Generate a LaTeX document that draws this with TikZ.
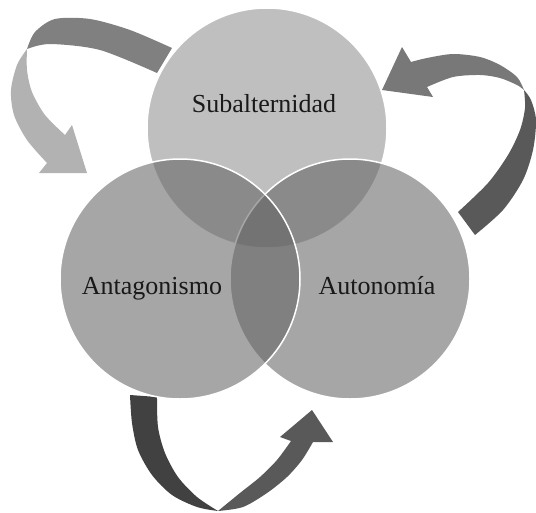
\documentclass[tikz,border=0pt]{standalone}
\usepackage{fontspec}
\setmainfont{Liberation Serif}
\definecolor{topgray}{gray}{0.56}
\definecolor{sidegray}{gray}{0.39}
\definecolor{ribbondark}{gray}{0.50}
\definecolor{ribbonlight}{gray}{0.70}
\definecolor{ribbonmid}{gray}{0.47}
\definecolor{ribbondeep}{gray}{0.35}
\definecolor{ribbonblack}{gray}{0.255}
\usetikzlibrary{positioning}

\begin{document}
\begin{tikzpicture}[x=1pt, y=-1pt,
  venn/.style={circle, minimum size=240pt, inner sep=0pt, fill opacity=0.57, draw=white, line width=1.5pt},
  vennlabel/.style={anchor=base, text=black!90, font=\fontsize{26}{30}\selectfont}]
  \useasboundingbox (0,0) rectangle (536,512);

  % Cycle arrows
  \fill[ribbondark] plot[smooth] coordinates {(172,48) (130,30) (90,19) (55,19) (35,32) (27,49)}
    -- plot[smooth] coordinates {(27,49) (50,44) (100,50) (157,73)} -- cycle;
  \fill[ribbonlight] plot[smooth] coordinates {(27,49) (17,65) (11,90) (14,115) (27,140) (47,163)}
    -- (39,173) -- (87,173) -- (72,125)
    -- plot[smooth] coordinates {(65,135) (45,115) (32,92) (27,70) (27,49)} -- cycle;

  \fill[ribbondeep] plot[smooth] coordinates {(475,235) (503,210) (523,180) (533,150) (536,120) (531,100) (524,90)}
    -- plot[smooth] coordinates {(524,90) (525,108) (520,130) (508,155) (488,183) (458,212)} -- cycle;
  \fill[ribbonmid] plot[smooth] coordinates {(524,90) (517,77) (500,65) (480,57) (453,54) (427,58) (411,62)}
    -- (402,47) -- (382,90) -- (433,97)
    -- plot[smooth] coordinates {(427,87) (453,77) (480,75) (500,78) (517,85) (524,90)} -- cycle;

  \fill[ribbonblack] plot[smooth] coordinates {(130,395) (132,423) (138,450) (152,475) (172,495) (197,507) (218,511)}
    -- plot[smooth] coordinates {(218,511) (197,497) (178,477) (165,453) (158,427) (157,397)} -- cycle;
  \fill[ribbondeep] plot[smooth] coordinates {(218,511) (243,507) (267,493) (287,477) (302,460) (313,442)}
    -- (333,442) -- (312,410) -- (280,437)
    -- plot[smooth] coordinates {(291,441) (277,460) (260,477) (240,493) (218,511)} -- cycle;

  % Venn circles
  \node[venn, fill=topgray] (subalt) at (267,128) {};
  \node[venn, fill=sidegray] (auton) at (350,279) {};
  \node[venn, fill=sidegray] (antag) at (180,279) {};

  \node[vennlabel] (lsubalt) at (264,112) {Subalternidad};
  \node[vennlabel] (lantag) at (152,294) {Antagonismo};
  \node[vennlabel] (lauton) at (377,294) {Autonomía};
\end{tikzpicture}
\end{document}
